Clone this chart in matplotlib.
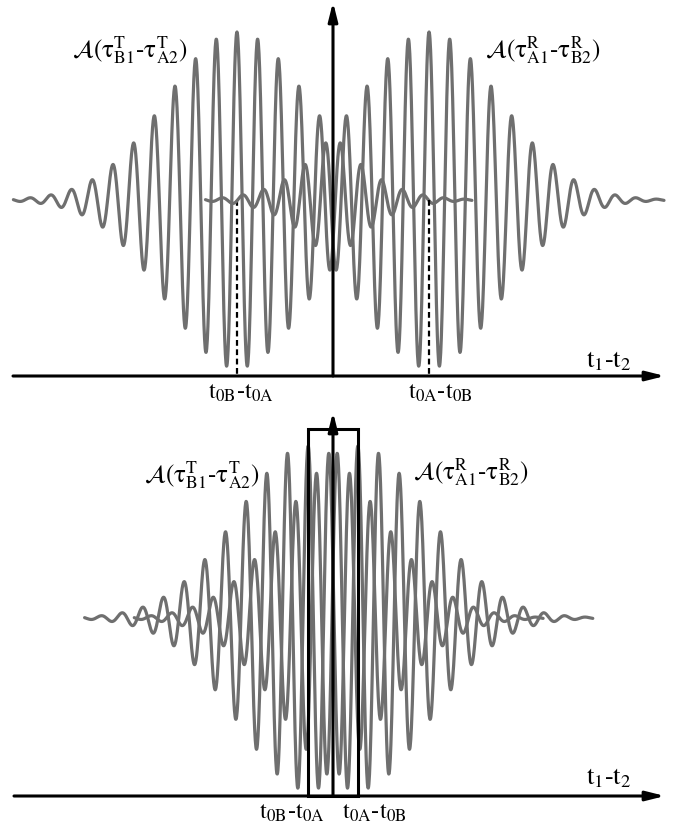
import numpy as np
import matplotlib
matplotlib.use("Agg")
import matplotlib.pyplot as plt
from matplotlib.patches import Rectangle

plt.rcParams['mathtext.fontset'] = 'stix'
plt.rcParams['font.family'] = ['STIXGeneral', 'DejaVu Serif']

# time in carrier periods, amplitude in units of the packet peak
period = 1.0
sigma = 3.4                    # envelope width (periods)
tail_left = -10.8              # where each packet is cut off, relative to its centre
tail_right = 11.35

# packet centres: (T packet, R packet) for upper and lower diagrams
centres_top = [-4.64, 4.64]
centres_bottom = [-1.2, 1.2]

label_T = r'$\mathcal{A}(\mathrm{\tau}^{\mathrm{T}}_{\mathrm{B1}}$-$\mathrm{\tau}^{\mathrm{T}}_{\mathrm{A2}})$'
label_R = r'$\mathcal{A}(\mathrm{\tau}^{\mathrm{R}}_{\mathrm{A1}}$-$\mathrm{\tau}^{\mathrm{R}}_{\mathrm{B2}})$'
tick_BA = r'$\mathrm{t}_{\mathrm{0B}}$-$\mathrm{t}_{\mathrm{0A}}$'
tick_AB = r'$\mathrm{t}_{\mathrm{0A}}$-$\mathrm{t}_{\mathrm{0B}}$'
axis_label = r'$\mathrm{t}_{1}$-$\mathrm{t}_{2}$'

wave_color = '#6f6f6f'
px = 20.7  # pixels per period


def packet(t0):
    t = np.linspace(t0 + tail_left, t0 + tail_right, 1500)
    y = np.exp(-0.5 * ((t - t0) / sigma) ** 2) * np.cos(2 * np.pi * (t - t0) / period)
    return t, y


def axes_arrows(ax, x0, x1, y_axis, y_top):
    style = dict(arrowstyle='-|>,head_length=0.8,head_width=0.2', lw=2.2,
                 color='black', shrinkA=0, shrinkB=0, mutation_scale=14)
    ax.annotate('', xy=(x1, y_axis), xytext=(x0, y_axis), arrowprops=style)
    ax.annotate('', xy=(0, y_top), xytext=(0, y_axis), arrowprops=style)


fig = plt.figure(figsize=(6.85, 8.32), dpi=100)
W, H = 685, 832
xlim = (-333 / px, (W - 333) / px)

# ---- upper diagram ----
amp = 168.0
ax1 = fig.add_axes([0, 1 - 410 / H, 1, 410 / H])
ax1.set_xlim(*xlim)
ax1.set_ylim(-(410 - 200) / amp, 200 / amp)
ax1.axis('off')
y_ax = -(376 - 200) / amp
for c in centres_top:
    t, y = packet(c)
    ax1.plot(t, y, color=wave_color, lw=2.3, solid_capstyle='round')
    ax1.plot([c, c], [0, y_ax], color='black', lw=1.6, ls=(0, (2.6, 1.6)))
axes_arrows(ax1, -320 / px, 332 / px, y_ax, 198 / amp)
ax1.text(-12.6, 0.89, label_T, fontsize=18, ha='left', va='center')
ax1.text(7.35, 0.89, label_R, fontsize=18, ha='left', va='center')
ax1.text(12.2, -0.96, axis_label, fontsize=19, ha='left', va='center')
ax1.text(centres_top[0] + 0.2, -1.15, tick_BA, fontsize=17.5, ha='center', va='center')
ax1.text(centres_top[1] + 0.55, -1.15, tick_AB, fontsize=17.5, ha='center', va='center')

# ---- lower diagram ----
amp = 172.0
ax2 = fig.add_axes([0, 0, 1, (H - 410) / H])
ax2.set_xlim(*xlim)
ax2.set_ylim(-(H - 618) / amp, (618 - 410) / amp)
ax2.axis('off')
y_ax = -(796 - 618) / amp
for c in centres_bottom:
    t, y = packet(c)
    ax2.plot(t, y, color=wave_color, lw=2.3, solid_capstyle='round')
axes_arrows(ax2, -319 / px, 332 / px, y_ax, (618 - 412) / amp)
box_top = (618 - 429) / amp
ax2.add_patch(Rectangle((centres_bottom[0], y_ax), centres_bottom[1] - centres_bottom[0],
                        box_top - y_ax, fill=False, ec='black', lw=2.2, zorder=5))
ax2.text(-9.15, 0.83, label_T, fontsize=18, ha='left', va='center')
ax2.text(3.85, 0.85, label_R, fontsize=18, ha='left', va='center')
ax2.text(12.2, -0.93, axis_label, fontsize=19, ha='left', va='center')
ax2.text(centres_bottom[0] + 0.8, -1.13, tick_BA, fontsize=17.5, ha='right', va='center')
ax2.text(centres_bottom[1] - 0.75, -1.13, tick_AB, fontsize=17.5, ha='left', va='center')

fig.savefig('out.png', dpi=100)
